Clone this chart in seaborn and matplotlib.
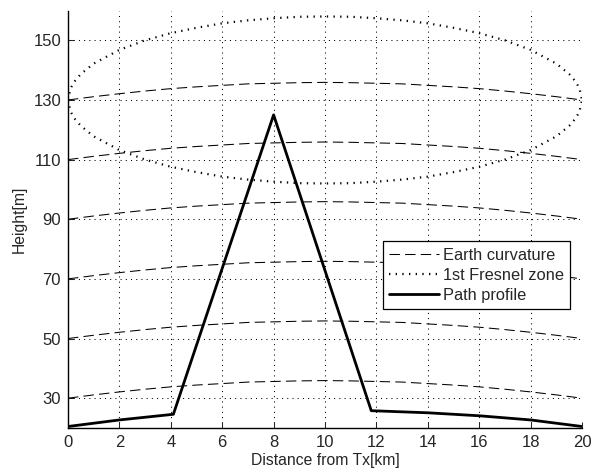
import matplotlib
matplotlib.use("Agg")
import matplotlib.pyplot as plt
import seaborn as sns
import numpy as np
import pandas as pd

# --- data ---
x_km = [0, 1, 2, 3, 4, 5, 6, 7, 8, 9, 10, 11, 12, 13, 14, 15, 16, 17, 18, 19, 20]
bulge_m = [0, 1.1, 2.1, 3.0, 3.8, 4.4, 4.9, 5.4, 5.6, 5.8, 5.9,
           5.8, 5.6, 5.4, 4.9, 4.4, 3.8, 3.0, 2.1, 1.1, 0]
curve_base = [130, 110, 90, 70, 50, 30]

fz_x = [0, 0.1, 0.25, 0.5, 1, 2, 3, 4, 5, 6, 7, 8, 9, 10,
        11, 12, 13, 14, 15, 16, 17, 18, 19, 19.5, 19.75, 19.9, 20]
fz_r = [0, 3.9, 6.2, 8.7, 12.2, 16.8, 20.0, 22.4, 24.2, 25.7, 26.7, 27.4, 27.9, 28.0,
        27.9, 27.4, 26.7, 25.7, 24.2, 22.4, 20.0, 16.8, 12.2, 8.7, 6.2, 3.9, 0]
fz_center = 130

profile_x = [0, 2, 4.1, 8, 11.8, 14, 16, 18, 20]
profile_h = [20.5, 22.7, 24.6, 125, 25.8, 25.1, 24.1, 22.7, 20.5]

xticks = [0, 2, 4, 6, 8, 10, 12, 14, 16, 18, 20]
yticks = [30, 50, 70, 90, 110, 130, 150]

# --- style ---
sns.set_style("ticks")
plt.rcParams['font.family'] = ['Liberation Sans', 'DejaVu Sans']

fig = plt.figure(figsize=(5.97, 4.71), dpi=100)
ax = fig.add_axes([0.1139, 0.0913, 0.861, 0.8864])

bulge = np.array(bulge_m)
for i, base in enumerate(curve_base):
    sns.lineplot(x=x_km, y=base + bulge, color="black", lw=0.75,
                 linestyle=(0, (10, 5)), label="Earth curvature" if i == 0 else None,
                 ax=ax)

fz_r_arr = np.array(fz_r)
sns.lineplot(x=fz_x, y=fz_center + fz_r_arr, color="black", lw=1.6,
             linestyle=(0, (0.6, 2.4)), label="1st Fresnel zone", sort=False, ax=ax)
sns.lineplot(x=fz_x, y=fz_center - fz_r_arr, color="black", lw=1.6,
             linestyle=(0, (0.6, 2.4)), sort=False, ax=ax)

sns.lineplot(x=profile_x, y=profile_h, color="black", lw=2.0,
             label="Path profile", sort=False, ax=ax)

ax.set_xlim(0, 20)
ax.set_ylim(20, 160)
ax.set_xticks(xticks)
ax.set_yticks(yticks)
ax.grid(True, color="black", linestyle=(0, (1, 4)), linewidth=0.75)
ax.tick_params(direction="in", length=4, width=0.75, labelsize=12, pad=5)
sns.despine(ax=ax)
for s in ("left", "bottom"):
    ax.spines[s].set_linewidth(1.0)
    ax.spines[s].set_color("black")

ax.set_xlabel("Distance from Tx[km]", fontsize=11.3, labelpad=2)
ax.set_ylabel("Height[m]", fontsize=11.3, labelpad=5)

leg = ax.legend(loc="upper right", bbox_to_anchor=(0.977, 0.447), borderaxespad=0,
                fontsize=11.8, handlelength=3.0, handletextpad=0.25,
                labelspacing=0.3, borderpad=0.4, fancybox=False, framealpha=1)
leg.get_frame().set_edgecolor("black")
leg.get_frame().set_linewidth(0.9)

fig.savefig("out.png", dpi=100)
